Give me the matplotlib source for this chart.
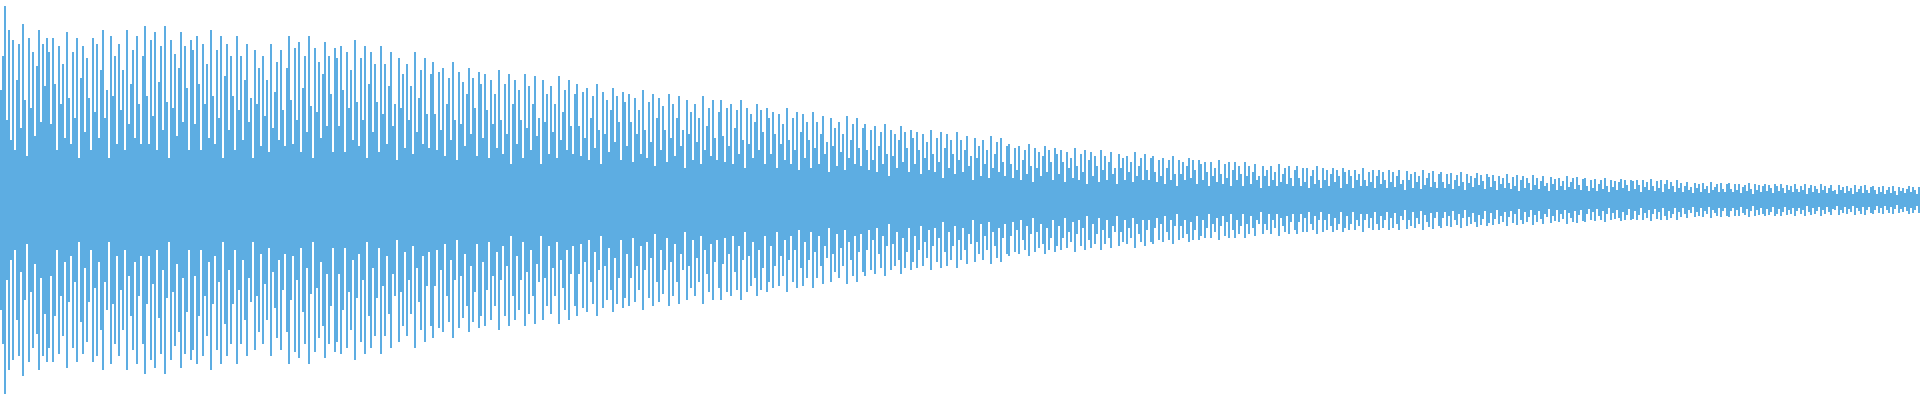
import numpy as np
import matplotlib
matplotlib.use("Agg")
import matplotlib.pyplot as plt

# Waveform bar amplitudes (percent of half-height), one bar per 2 px column pair,
# read left to right in four 480-px segments.
seg_a = [
    55, 72, 97, 40, 85, 30, 80, 25, 60, 78, 36, 88, 50, 22, 81, 46, 74, 32, 67, 85, 39, 78, 57, 81,
    74, 38, 81, 58, 25, 77, 48, 68, 31, 84, 51, 28, 74, 41, 81, 21, 61, 77, 34, 71, 51, 25, 81, 44,
    78, 31, 65, 85, 41, 55, 21, 82, 52, 72, 28, 78, 45, 65, 25, 85, 38, 58, 75, 31, 82, 48, 28, 72,
    87, 52, 28, 80, 42, 84, 25, 59, 77, 35, 87, 49, 21, 80, 46, 73, 32, 66, 84, 39, 77, 56, 25, 80,
    75, 38, 82, 58, 25, 78, 48, 68, 31, 85, 52, 28, 75, 41, 82, 21, 62, 78, 35, 72, 52, 25, 82, 45,
    72, 30, 60, 78, 39, 51, 21, 75, 48, 66, 27, 72, 42, 60, 24, 78, 36, 54, 69, 30, 75, 45, 27, 66,
    82, 50, 28, 76, 40, 79, 24, 56, 72, 34, 82, 47, 21, 76, 44, 69, 31, 63, 79, 37, 72, 53, 24, 76,
    71, 37, 77, 55, 24, 74, 46, 65, 30, 80, 49, 27, 71, 40, 77, 21, 58, 74, 34, 68, 49, 24, 77, 43,
    68, 28, 57, 74, 37, 48, 20, 71, 46, 63, 26, 68, 40, 57, 23, 74, 34, 51, 65, 28, 71, 43, 26, 63,
    69, 43, 25, 64, 35, 66, 22, 48, 61, 30, 69, 40, 20, 64, 38, 59, 27, 53, 66, 33, 61, 46, 22, 64,
]
seg_b = [
    58, 31, 63, 45, 21, 60, 38, 53, 26, 65, 40, 23, 58, 33, 63, 18, 48, 60, 28, 55, 40, 21, 63, 36,
    57, 25, 48, 62, 32, 41, 18, 60, 39, 53, 23, 57, 34, 48, 21, 62, 30, 44, 55, 25, 60, 37, 23, 53,
    58, 37, 22, 54, 31, 56, 20, 41, 52, 26, 58, 35, 18, 54, 33, 50, 24, 45, 56, 29, 52, 39, 20, 54,
    49, 27, 53, 39, 19, 51, 33, 45, 23, 55, 35, 21, 49, 29, 53, 17, 41, 51, 25, 47, 35, 19, 53, 31,
    48, 22, 41, 52, 27, 35, 16, 50, 33, 44, 20, 48, 29, 41, 18, 52, 25, 37, 46, 22, 50, 31, 20, 44,
    50, 32, 19, 46, 27, 48, 18, 36, 45, 23, 50, 30, 16, 46, 28, 43, 21, 39, 48, 25, 45, 34, 18, 46,
    41, 23, 44, 33, 16, 43, 28, 38, 20, 46, 30, 18, 41, 25, 44, 15, 34, 43, 21, 39, 30, 16, 44, 26,
    39, 18, 33, 42, 23, 29, 14, 41, 27, 36, 17, 39, 24, 33, 15, 42, 21, 30, 38, 18, 41, 26, 17, 36,
    38, 25, 15, 35, 20, 37, 14, 27, 34, 18, 38, 23, 12, 35, 22, 33, 16, 30, 37, 19, 34, 26, 14, 35,
    31, 18, 34, 25, 13, 33, 21, 29, 15, 35, 23, 14, 31, 19, 34, 11, 26, 33, 16, 30, 23, 13, 34, 20,
]
seg_c = [
    30, 14, 25, 32, 17, 22, 10, 31, 21, 27, 12, 30, 18, 25, 11, 32, 16, 23, 29, 14, 31, 19, 12, 27,
    28, 18, 11, 26, 15, 27, 10, 20, 25, 13, 28, 17, 9, 26, 16, 24, 12, 22, 27, 14, 25, 19, 10, 26,
    23, 13, 25, 19, 9, 24, 16, 21, 11, 26, 17, 10, 23, 14, 25, 8, 20, 24, 12, 22, 17, 9, 25, 15,
    22, 10, 19, 24, 13, 16, 8, 23, 16, 21, 10, 22, 14, 19, 9, 24, 12, 17, 21, 10, 23, 15, 10, 21,
    22, 14, 9, 20, 12, 21, 8, 16, 20, 10, 22, 13, 7, 20, 13, 19, 10, 17, 21, 11, 20, 15, 8, 20,
    18, 10, 19, 14, 7, 19, 12, 16, 9, 20, 13, 8, 18, 11, 19, 7, 15, 19, 10, 17, 13, 7, 19, 12,
    17, 8, 14, 18, 10, 12, 6, 17, 12, 15, 7, 17, 10, 14, 7, 18, 9, 13, 16, 8, 17, 11, 7, 15,
    17, 11, 7, 16, 9, 16, 6, 12, 15, 8, 17, 10, 6, 16, 10, 15, 7, 13, 16, 9, 15, 12, 6, 16,
    14, 8, 15, 12, 6, 15, 10, 13, 7, 16, 10, 7, 14, 9, 15, 6, 12, 15, 8, 14, 10, 6, 15, 9,
    14, 6.5, 12, 15, 8, 10, 5, 14.5, 10, 13, 6, 14, 9, 12, 5.5, 15, 7.5, 11, 13.5, 6.5, 14.5, 9, 6, 13,
]
seg_d = [
    14, 9, 6, 13, 8, 13.5, 5.5, 10, 12.5, 7, 14, 9, 5, 13, 8.5, 12, 6.5, 11, 13.5, 7.5, 12.5, 9.5, 5.5, 13,
    11.5, 6.5, 12.5, 9.5, 5, 12, 8, 11, 6, 13, 8.5, 5.5, 11.5, 7, 12.5, 4.5, 10, 12, 6, 11, 8.5, 5, 12.5, 7.5,
    11, 5.5, 9.5, 12, 7, 8.5, 4.5, 11.5, 8, 10.5, 5, 11, 7, 9.5, 5, 12, 6.5, 9, 11, 5.5, 11.5, 7.5, 5, 10.5,
    11, 7, 4.5, 10, 6, 10.5, 4.5, 8, 10, 5.5, 11, 7, 4, 10, 6.5, 9.5, 5, 9, 10.5, 6, 10, 7.5, 4.5, 10,
    9.5, 5.5, 10, 7.5, 4, 10, 6.5, 9, 5, 10.5, 7, 4.5, 9.5, 6, 10, 4, 8, 10, 5.5, 9, 7, 4, 10, 6,
    8.5, 4, 7, 9, 5, 6.5, 3.5, 8.5, 6, 8, 4, 8.5, 5.5, 7, 3.5, 9, 5, 6.5, 8, 4, 8.5, 5.5, 4, 8,
    8.5, 5.5, 4, 8, 5, 8, 3.5, 6.5, 7.5, 4.5, 8.5, 5.5, 3, 8, 5, 7.5, 4, 7, 8, 4.5, 7.5, 6, 3.5, 8,
    7, 4.5, 8, 6, 3.5, 7.5, 5, 7, 4, 8, 5.5, 4, 7, 5, 8, 3, 6, 7.5, 4, 7, 5.5, 3.5, 8, 5,
    7, 3.5, 6, 7.5, 4.5, 5, 3, 7.5, 5, 6.5, 3.5, 7, 4.5, 6, 3, 7.5, 4, 5.5, 7, 3.5, 7.5, 5, 3.5, 6.5,
    7, 5, 3, 6.5, 4, 7, 3, 5, 6.5, 3.5, 7, 4.5, 2.5, 6.5, 4.5, 6, 3.5, 5.5, 7, 4, 6.5, 5, 3, 6.5,
]

BAR_COLOR = "#5DADE2"

amps = np.array(seg_a + seg_b + seg_c + seg_d, dtype=float) / 100.0
xs = np.arange(len(amps))

fig = plt.figure(figsize=(19.2, 4.0), dpi=100)
fig.patch.set_facecolor("white")
ax = fig.add_axes([0, 0, 1, 1])
ax.bar(xs, 2 * amps, bottom=-amps, width=1.0, color=BAR_COLOR, linewidth=0)
ax.set_xlim(-0.5, len(amps) - 0.5)
ax.set_ylim(-1.0, 1.0)
ax.axis("off")
fig.savefig("out.png", dpi=100, facecolor="white")
